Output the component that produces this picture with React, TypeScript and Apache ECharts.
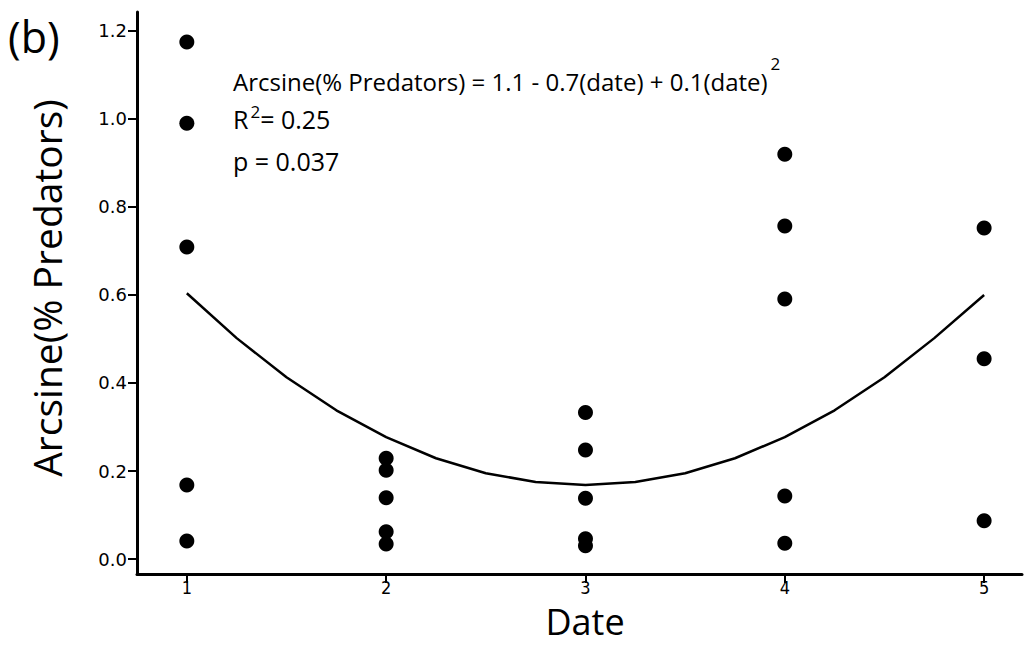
import React, { useEffect, useRef } from "react";
import * as echarts from "echarts";

const dateTicks = [1, 2, 3, 4, 5];
const yTicks = [0, 0.2, 0.4, 0.6, 0.8, 1.0, 1.2];

const date1 = [1.175, 0.99, 0.709, 0.168, 0.041];
const date2 = [0.229, 0.202, 0.139, 0.062, 0.034];
const date3 = [0.333, 0.248, 0.138, 0.046, 0.03];
const date4 = [0.92, 0.757, 0.591, 0.143, 0.036];
const date5 = [0.752, 0.455, 0.087];

const curveX = [1, 1.25, 1.5, 1.75, 2, 2.25, 2.5, 2.75, 3, 3.25, 3.5, 3.75, 4, 4.25, 4.5, 4.75, 5];
const curveY = [0.604, 0.502, 0.413, 0.338, 0.277, 0.229, 0.195, 0.175, 0.168, 0.175, 0.195, 0.229, 0.277, 0.338, 0.413, 0.502, 0.6];

const eqText = "Arcsine(% Predators) = 1.1 - 0.7(date) + 0.1(date)";
const r2Text = "0.25";
const pText = "p = 0.037";

export default function App() {
  const ref = useRef<HTMLDivElement>(null);
  useEffect(() => {
    if (!ref.current) return;
    const chart = echarts.init(ref.current, null, { renderer: "svg" });
    const groups = [date1, date2, date3, date4, date5];
    const points: number[][] = [];
    groups.forEach((g, i) => g.forEach((v) => points.push([dateTicks[i], v])));
    const curve = curveX.map((x, i) => [x, curveY[i]]);
    const font = "'Open Sans', 'Noto Sans', sans-serif";
    chart.setOption({
      animation: false,
      backgroundColor: "#ffffff",
      grid: { left: 137, right: 4, top: 12, bottom: 71, containLabel: false },
      xAxis: {
        type: "value",
        min: 0.75,
        max: 5.19,
        axisLine: { show: true, onZero: false, lineStyle: { color: "#000", width: 3 } },
        axisTick: { show: true, length: 9, customValues: dateTicks, lineStyle: { color: "#000", width: 2 } },
        axisLabel: {
          customValues: dateTicks,
          color: "#000",
          fontSize: 18,
          lineHeight: 16,
          fontFamily: "'DejaVu Sans Condensed', 'DejaVu Sans', sans-serif",
          margin: 5,
        },
        splitLine: { show: false },
      },
      yAxis: {
        type: "value",
        min: -0.034,
        max: 1.243,
        axisLine: { show: true, onZero: false, lineStyle: { color: "#000", width: 3 } },
        axisTick: { show: true, length: 9, customValues: yTicks, lineStyle: { color: "#000", width: 2 } },
        axisLabel: {
          customValues: yTicks,
          color: "#000",
          fontSize: 18,
          fontFamily: "'DejaVu Sans', sans-serif",
          margin: 10,
          formatter: (v: number) => v.toFixed(1),
        },
        splitLine: { show: false },
      },
      series: [
        {
          type: "line",
          data: curve,
          showSymbol: false,
          symbol: "none",
          lineStyle: { color: "#000", width: 2.5 },
          z: 2,
        },
        {
          type: "scatter",
          data: points,
          symbol: "circle",
          symbolSize: 15,
          itemStyle: { color: "#000", opacity: 1 },
          z: 3,
        },
      ],
      graphic: [
        {
          type: "text",
          x: 8,
          y: 36,
          style: { text: "(b)", fontSize: 43, fontFamily: font, fill: "#000", verticalAlign: "middle" },
        },
        {
          type: "text",
          x: 46,
          y: 288,
          rotation: Math.PI / 2,
          style: {
            text: "Arcsine(% Predators)",
            fontSize: 39,
            fontFamily: font,
            fill: "#000",
            align: "center",
            verticalAlign: "middle",
          },
        },
        {
          type: "text",
          x: 585,
          y: 621,
          style: {
            text: "Date",
            fontSize: 36,
            lineHeight: 34,
            fontFamily: font,
            fill: "#000",
            align: "center",
            verticalAlign: "middle",
          },
        },
        {
          type: "text",
          x: 233,
          y: 74,
          style: {
            text: `{m|${eqText}}{s|2}`,
            rich: {
              m: { fontSize: 24, fontFamily: font, fill: "#000", verticalAlign: "bottom" },
              s: { fontSize: 17, fontFamily: font, fill: "#000", verticalAlign: "top", padding: [0, 0, 22, 3] },
            },
            verticalAlign: "middle",
          },
        },
        {
          type: "text",
          x: 233,
          y: 119,
          style: {
            text: `{m|R}{s|2}{m|= ${r2Text}}`,
            rich: {
              m: { fontSize: 25, fontFamily: font, fill: "#000" },
              s: { fontSize: 17, fontFamily: font, fill: "#000", padding: [0, 0, 16, 2] },
            },
            verticalAlign: "middle",
          },
        },
        {
          type: "text",
          x: 233,
          y: 161,
          style: { text: pText, fontSize: 25, fontFamily: font, fill: "#000", verticalAlign: "middle" },
        },
      ],
    });
    return () => chart.dispose();
  }, []);
  return <div ref={ref} style={{ position: "absolute", left: 0, top: 0, width: 1026, height: 645 }} />;
}
